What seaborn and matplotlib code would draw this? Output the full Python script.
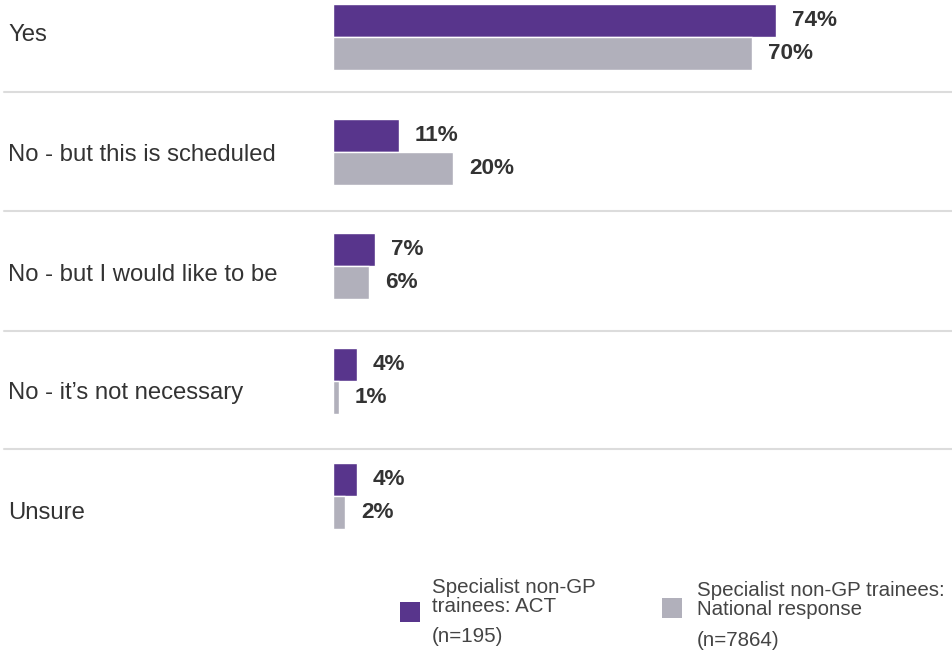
import pandas as pd
import seaborn as sns
import matplotlib.pyplot as plt
from matplotlib.patches import Rectangle
from matplotlib.transforms import blended_transform_factory

# Data
categories = ['Yes', 'No - but this is scheduled', 'No - but I would like to be',
              'No - it\u2019s not necessary', 'Unsure']
act_values = [74, 11, 7, 4, 4]
national_values = [70, 20, 6, 1, 2]
series_names = ['ACT', 'National']
legend_labels = ['Specialist non-GP\ntrainees: ACT', 'Specialist non-GP trainees:\nNational response']
legend_n = ['(n=195)', '(n=7864)']

colors = {'ACT': '#58358c', 'National': '#b1b0bb'}

df = pd.DataFrame({
    'category': categories * 2,
    'group': ['ACT'] * len(categories) + ['National'] * len(categories),
    'value': act_values + national_values,
})

sns.set_theme(style='white')
plt.rcParams['font.family'] = ['Liberation Sans', 'DejaVu Sans']

W, H = 952, 654
fig = plt.figure(figsize=(W / 100, H / 100), dpi=100)
ax = fig.add_axes([333 / W, 1 - 560 / H, 619 / W, 560 / H])

sns.barplot(data=df, y='category', x='value', hue='group', order=categories,
            hue_order=series_names, palette=colors, orient='h', width=0.575,
            saturation=1, legend=False, ax=ax)

ax.set_xlim(0, 619 / 5.99)
ax.set_ylim(4.558, -0.3224)
ax.axis('off')

# value labels
for container in ax.containers:
    ax.bar_label(container, labels=[f'{v:.0f}%' for v in container.datavalues],
                 padding=11.5, fontsize=16.2, fontweight='bold', color='#333333')

# category labels (they sit a little lower than the bars further down)
trans = blended_transform_factory(ax.transAxes, ax.transData)
label_y = [-0.02, 1.025, 2.07, 3.10, 4.145]
for cat, y in zip(categories, label_y):
    ax.text((8 - 333) / 619, y, cat, transform=trans, ha='left', va='center',
            fontsize=17.2, color='#333333')

# separators between categories
for y in [0.479, 1.516, 2.563, 3.591]:
    ax.axhline(y, xmin=(4 - 333) / 619, xmax=1, color='#dcdcdc', lw=1.5, clip_on=False)

# legend drawn by hand
sq = [(400, 602), (662, 598)]
text_x = [432, 697]
line1_y = [597, 600]
n_y = [637, 640]
for k, name in enumerate(series_names):
    x0, y0 = sq[k]
    fig.add_artist(Rectangle((x0 / W, 1 - (y0 + 20) / H), 20 / W, 20 / H,
                             transform=fig.transFigure, color=colors[name], lw=0))
    fig.text(text_x[k] / W, 1 - line1_y[k] / H, legend_labels[k], ha='left', va='center',
             fontsize=14.8, color='#444444', linespacing=1.0)
    fig.text(text_x[k] / W, 1 - n_y[k] / H, legend_n[k], ha='left', va='center',
             fontsize=14.8, color='#444444')

fig.savefig('out.png', dpi=100)
